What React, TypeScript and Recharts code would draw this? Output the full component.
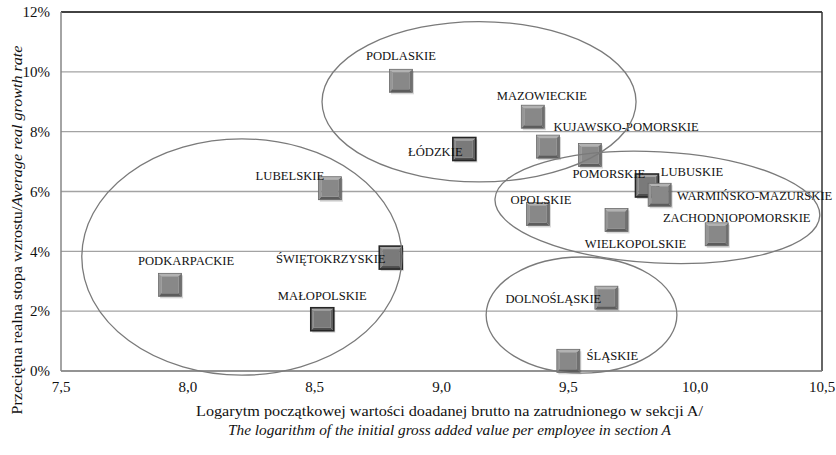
import React from 'react'
import { ScatterChart, Scatter, XAxis, YAxis, CartesianGrid, ReferenceLine } from 'recharts'

// voivodeships: log of initial GVA per employee (x) vs average real growth rate in % (y)
const regions = [
  'PODKARPACKIE', 'MAŁOPOLSKIE', 'LUBELSKIE', 'ŚWIĘTOKRZYSKIE', 'PODLASKIE', 'ŁÓDZKIE',
  'MAZOWIECKIE', 'KUJAWSKO-POMORSKIE', 'OPOLSKIE', 'ŚLĄSKIE', 'POMORSKIE', 'DOLNOŚLĄSKIE',
  'WIELKOPOLSKIE', 'LUBUSKIE', 'WARMIŃSKO-MAZURSKIE', 'ZACHODNIOPOMORSKIE',
]
const logGva = [7.93, 8.53, 8.56, 8.8, 8.84, 9.09, 9.36, 9.42, 9.38, 9.5, 9.585, 9.65, 9.69, 9.81, 9.86, 10.085]
const growth = [2.88, 1.73, 6.11, 3.79, 9.7, 7.42, 8.5, 7.5, 5.25, 0.34, 7.22, 2.45, 5.05, 6.2, 5.89, 4.57]

// cluster ellipses (centre, semi-axes in data units, tilt in degrees)
const clusterX = [8.213, 9.148, 9.851, 9.552]
const clusterY = [3.81, 9.0, 5.47, 1.87]
const clusterRx = [0.631, 0.619, 0.641, 0.376]
const clusterRy = [3.95, 2.68, 1.86, 1.94]
const clusterTilt = [0, 0, 3, 0]

const xTicks = [7.5, 8, 8.5, 9, 9.5, 10, 10.5]
const yTicks = [0, 2, 4, 6, 8, 10, 12]

const W = 836
const H = 455
const margin = { top: 12, right: 14, left: 11, bottom: 54 }
const Y_AXIS_W = 50
const X_AXIS_H = 30
const PLOT_W = W - margin.left - margin.right - Y_AXIS_W
const PLOT_H = H - margin.top - margin.bottom - X_AXIS_H
const PX_X = PLOT_W / (xTicks[xTicks.length - 1] - xTicks[0])
const PX_Y = PLOT_H / (yTicks[yTicks.length - 1] - yTicks[0])

const FONT = '"Liberation Serif", "Times New Roman", serif'

// label offsets from the square centre, px
const labelOffset: Record<string, [number, number]> = {
  'PODKARPACKIE': [16, -24],
  'MAŁOPOLSKIE': [0, -24],
  'LUBELSKIE': [-40, -13],
  'ŚWIĘTOKRZYSKIE': [-60, 1],
  'PODLASKIE': [0, -25],
  'ŁÓDZKIE': [-29, 2],
  'MAZOWIECKIE': [9, -21],
  'KUJAWSKO-POMORSKIE': [78, -20],
  'OPOLSKIE': [3, -14],
  'ŚLĄSKIE': [44, -5],
  'POMORSKIE': [19, 18],
  'DOLNOŚLĄSKIE': [-53, 1],
  'WIELKOPOLSKIE': [19, 24],
  'LUBUSKIE': [45, -14],
  'WARMIŃSKO-MAZURSKIE': [95, 1],
  'ZACHODNIOPOMORSKIE': [20, -17],
}
const outlined = new Set(['ŁÓDZKIE', 'MAŁOPOLSKIE', 'LUBUSKIE', 'ŚWIĘTOKRZYSKIE'])

const points = regions.map((name, i) => ({ name, x: logGva[i], y: growth[i] }))
const clusters = clusterX.map((x, i) => ({ x, y: clusterY[i], rx: clusterRx[i], ry: clusterRy[i], tilt: clusterTilt[i] }))

function Square(props: any) {
  const { cx, cy, payload } = props
  if (cx == null || cy == null) return null
  const s = 23
  const b = 3
  const l = cx - s / 2
  const t = cy - s / 2
  const r = l + s
  const btm = t + s
  const dark = outlined.has(payload.name)
  const k = dark ? -14 : 0
  const c = (v: number) => `rgb(${v + k},${v + k},${v + k})`
  return (
    <g>
      <rect x={l + 1.5} y={t + 2} width={s} height={s} fill="#000" opacity={0.16} />
      <polygon points={`${l},${t} ${r},${t} ${r - b},${t + b} ${l + b},${t + b}`} fill={c(178)} />
      <polygon points={`${l},${t} ${l + b},${t + b} ${l + b},${btm - b} ${l},${btm}`} fill={c(150)} />
      <polygon points={`${r},${t} ${r},${btm} ${r - b},${btm - b} ${r - b},${t + b}`} fill={c(112)} />
      <polygon points={`${l},${btm} ${l + b},${btm - b} ${r - b},${btm - b} ${r},${btm}`} fill={c(92)} />
      <rect x={l + b} y={t + b} width={s - 2 * b} height={s - 2 * b} fill={c(136)} />
      <rect x={l} y={t} width={s} height={s} fill="none" stroke={dark ? '#262626' : '#6a6a6a'} strokeWidth={dark ? 1.6 : 0.8} />
    </g>
  )
}

function RegionLabel(props: any) {
  const { cx, cy, payload } = props
  if (cx == null || cy == null) return null
  const [dx, dy] = labelOffset[payload.name] ?? [0, -20]
  return (
    <text x={cx + dx} y={cy + dy + 4.5} textAnchor="middle" fontFamily={FONT} fontSize={12.6} fill="#111">
      {payload.name}
    </text>
  )
}

function Cluster(props: any) {
  const { cx, cy, payload } = props
  if (cx == null || cy == null) return null
  return (
    <ellipse
      cx={cx}
      cy={cy}
      rx={payload.rx * PX_X}
      ry={payload.ry * PX_Y}
      transform={`rotate(${payload.tilt} ${cx} ${cy})`}
      fill="none"
      stroke="#7a7a7a"
      strokeWidth={1.3}
    />
  )
}

function XTitle(props: any) {
  const vb = props.viewBox ?? { x: 61, y: 371, width: PLOT_W }
  const mid = vb.x + vb.width / 2 + 8
  return (
    <g fontFamily={FONT} fontSize={15} fill="#111">
      <text x={mid} y={416} textAnchor="middle" textLength={507} lengthAdjust="spacingAndGlyphs">
        Logarytm początkowej wartości doadanej brutto na zatrudnionego w sekcji A/
      </text>
      <text x={mid} y={435} textAnchor="middle" fontStyle="italic" textLength={443} lengthAdjust="spacingAndGlyphs">
        The  logarithm of the initial gross added value per employee in section A
      </text>
    </g>
  )
}

function YTitle() {
  return (
    <text
      x={22}
      y={230}
      transform="rotate(-90 22 230)"
      textAnchor="middle"
      fontFamily={FONT}
      fontSize={15}
      fill="#111"
      textLength={369}
      lengthAdjust="spacingAndGlyphs"
    >
      Przeciętna realna stopa wzrostu/<tspan fontStyle="italic">Average real growth rate</tspan>
    </text>
  )
}

export default function App() {
  return (
    <div style={{ position: 'absolute', left: 0, top: 0, background: '#fff' }}>
      <ScatterChart width={W} height={H} margin={margin}>
        <CartesianGrid horizontal vertical={false} stroke="#a3a3a3" strokeWidth={1.3} />
        <XAxis
          type="number"
          dataKey="x"
          domain={[7.5, 10.5]}
          ticks={xTicks}
          tickFormatter={(v: number) => v.toFixed(1).replace('.', ',')}
          tickLine={false}
          tickSize={0}
          tickMargin={10}
          height={X_AXIS_H}
          axisLine={{ stroke: '#868686', strokeWidth: 1.5 }}
          tick={{ fontFamily: FONT, fontSize: 15, fill: '#111' }}
          label={<XTitle />}
        />
        <YAxis
          type="number"
          dataKey="y"
          domain={[0, 12]}
          ticks={yTicks}
          tickFormatter={(v: number) => `${v}%`}
          tickLine={false}
          tickSize={0}
          tickMargin={11}
          width={Y_AXIS_W}
          axisLine={{ stroke: '#868686', strokeWidth: 1.5 }}
          tick={{ fontFamily: FONT, fontSize: 15, fill: '#111' }}
          label={<YTitle />}
        />
        <ReferenceLine y={12} stroke="#1a1a1a" strokeWidth={1.5} />
        <ReferenceLine x={10.5} stroke="#333" strokeWidth={1.5} />
        <Scatter data={points} shape={Square} isAnimationActive={false} />
        <Scatter data={points} shape={RegionLabel} isAnimationActive={false} />
        <Scatter data={clusters} shape={Cluster} isAnimationActive={false} />
      </ScatterChart>
    </div>
  )
}
